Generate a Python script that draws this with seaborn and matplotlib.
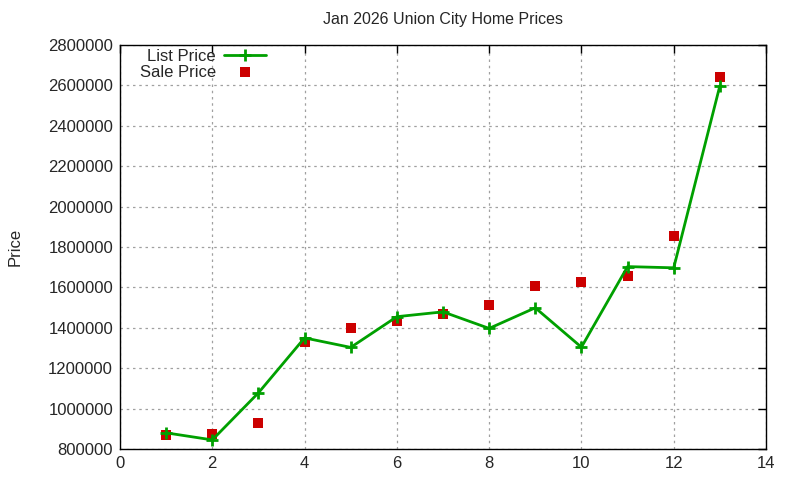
import numpy as np
import pandas as pd
import matplotlib
matplotlib.use('Agg')
import matplotlib.pyplot as plt
import seaborn as sns

months = [1, 2, 3, 4, 5, 6, 7, 8, 9, 10, 11, 12, 13]
list_price = [880000, 845000, 1078000, 1350000, 1303000, 1455000, 1479000,
              1397000, 1499000, 1304000, 1703000, 1697000, 2598000]
sale_price = [871000, 876000, 930000, 1329000, 1401000, 1433000, 1468000,
              1511000, 1605000, 1625000, 1655000, 1853000, 2641000]

df = pd.DataFrame({'n': months, 'list': list_price, 'sale': sale_price})

sns.set_style('white')
plt.rcParams['font.family'] = ['Liberation Sans', 'DejaVu Sans']

fig = plt.figure(figsize=(8, 4.8), dpi=100)
ax = fig.add_axes([0.15, 0.0646, 0.8075, 0.8416])

sns.lineplot(data=df, x='n', y='list', color='#00a000', linewidth=2,
             marker='+', markersize=8, markeredgewidth=2, markeredgecolor='#00a000',
             label='List Price', ax=ax)
sns.scatterplot(data=df, x='n', y='sale', color='#cc0000', marker='s', s=45,
                linewidth=0, label='Sale Price', ax=ax)

ax.set_xlim(0, 14)
ax.set_ylim(800000, 2800000)
ax.set_xticks(np.arange(0, 15, 2))
ax.set_yticks(np.arange(800000, 2800001, 200000))
ax.ticklabel_format(style='plain', axis='y')
ax.grid(True, color='#a0a0a0', linestyle=(0, (2, 3)), linewidth=0.9)
ax.tick_params(direction='in', length=6, top=True, right=True, labelsize=12,
               color='black', width=1, pad=5)
for s in ax.spines.values():
    s.set_color('black')
    s.set_linewidth(1)

ax.set_xlabel('')
ax.set_ylabel('Price', fontsize=12, labelpad=18)
ax.set_title('Jan 2026 Union City Home Prices', fontsize=11.5, pad=15)

ax.legend(loc='upper right', bbox_to_anchor=(0.236, 1.007), markerfirst=False,
          frameon=False, fontsize=12, handlelength=2.5, handletextpad=0.5,
          labelspacing=0.05, borderaxespad=0.0)

plt.savefig('out.png', dpi=100)
